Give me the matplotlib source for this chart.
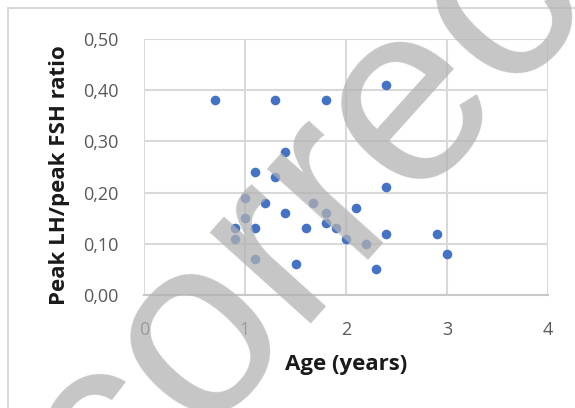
import matplotlib
matplotlib.use("Agg")
import matplotlib.pyplot as plt
from matplotlib.patches import Rectangle

# values
age_years = [0.7, 1.3, 1.8, 2.4, 1.4, 1.1, 1.3, 2.4, 1.0, 1.2,
             1.67, 2.1, 1.4, 1.8, 1.0, 1.8, 0.9, 1.1, 1.6, 1.9,
             0.9, 2.0, 2.4, 2.9, 2.2, 3.0, 1.1, 1.5, 2.3]
lh_fsh_ratio = [0.38, 0.38, 0.38, 0.41, 0.28, 0.24, 0.23, 0.21, 0.19, 0.18,
                0.18, 0.17, 0.16, 0.16, 0.15, 0.14, 0.13, 0.13, 0.13, 0.13,
                0.11, 0.11, 0.12, 0.12, 0.10, 0.08, 0.07, 0.06, 0.05]
x_ticks = [0, 1, 2, 3, 4]
y_ticks = [0.0, 0.1, 0.2, 0.3, 0.4, 0.5]
y_tick_labels = ['0,00', '0,10', '0,20', '0,30', '0,40', '0,50']

plt.rcParams['font.family'] = ['Open Sans', 'DejaVu Sans']

fig = plt.figure(figsize=(5.75, 4.08), dpi=100)
# chart frame (Excel style border)
fig.patches.append(Rectangle((8 / 575, -0.1), 1.0, 1 - 8 / 408 + 0.1, transform=fig.transFigure,
                             fill=False, edgecolor='#d9d9d9', linewidth=1.5))

ax = fig.add_axes([144 / 575, 1 - 295 / 408, 404 / 575, 256 / 408])
ax.scatter(age_years, lh_fsh_ratio, s=48, color='#4472C4', zorder=3, linewidths=0)

ax.set_xlim(0, 4)
ax.set_ylim(0, 0.5)
ax.set_xticks(x_ticks)
ax.set_yticks(y_ticks)
ax.set_yticklabels(y_tick_labels)
ax.grid(True, color='#d9d9d9', linewidth=1.5)
ax.set_axisbelow(True)
for side in ['top', 'right', 'left']:
    ax.spines[side].set_visible(False)
ax.spines['bottom'].set_color('#c8c8c8')
ax.spines['bottom'].set_linewidth(1.5)
ax.tick_params(axis='both', length=0, labelsize=13, labelcolor='#595959')
ax.tick_params(axis='x', pad=19)
ax.tick_params(axis='y', pad=18)

ax.set_xlabel('Age (years)', fontsize=16, fontweight='bold', color='#1a1a1a')
ax.set_ylabel('Peak LH/peak FSH ratio', fontsize=16, fontweight='bold', color='#1a1a1a')
ax.xaxis.set_label_coords(0.5, -0.273)
ax.xaxis.label.set_va('center')
ax.yaxis.set_label_coords(-0.21, 0.47)
ax.yaxis.label.set_va('center')

# grey proof watermark laid over the chart
fig.text(115 / 575, -122 / 408, 'corrected', fontsize=185, family='Liberation Sans',
         color=(178 / 255, 178 / 255, 178 / 255), alpha=0.74, rotation=48,
         rotation_mode='anchor', ha='left', va='baseline', zorder=10)

fig.savefig('out.png', dpi=100)
